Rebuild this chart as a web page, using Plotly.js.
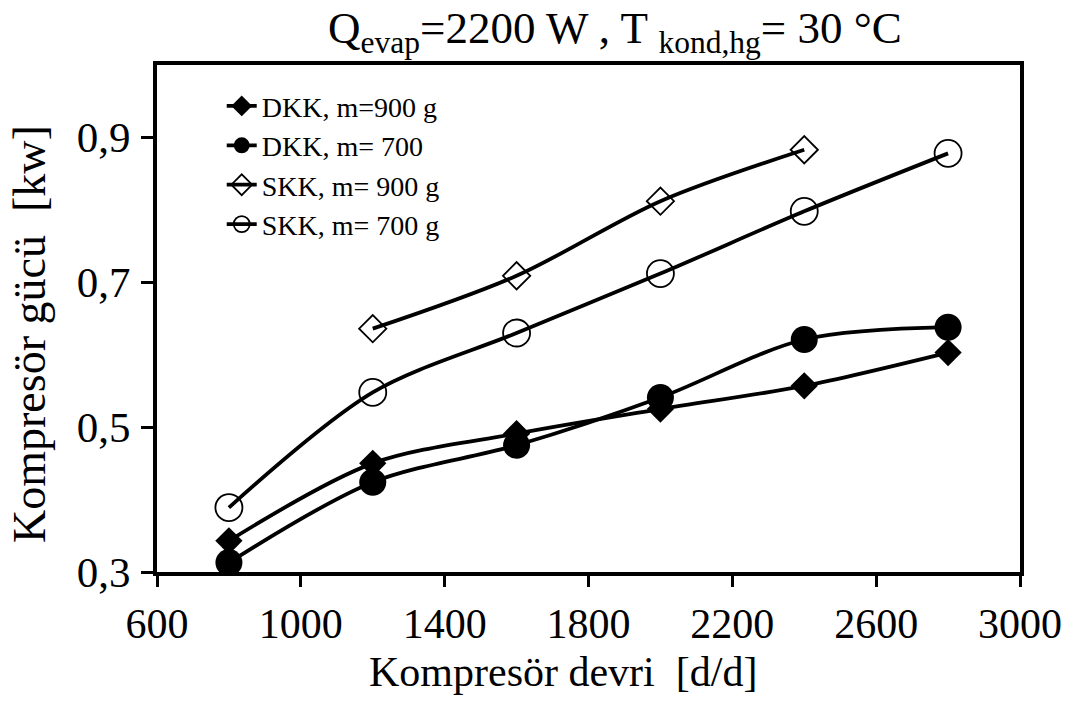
<!DOCTYPE html>
<html>
<head>
<meta charset="utf-8">
<script src="https://cdn.plot.ly/plotly-3.0.1.min.js"></script>
<style>html,body{margin:0;padding:0;background:#fff;}#chart{width:1075px;height:711px;}</style>
</head>
<body>
<div id="chart"></div>
<script>
const speed = [800, 1200, 1600, 2000, 2400, 2800];
const speedSkk900 = [1200, 1600, 2000, 2400];
const dkk900 = [0.343, 0.450, 0.491, 0.525, 0.557, 0.603];
const dkk700 = [0.313, 0.424, 0.475, 0.541, 0.621, 0.638];
const skk900 = [0.636, 0.709, 0.812, 0.883];
const skk700 = [0.389, 0.548, 0.630, 0.712, 0.798, 0.878];
const seriesNames = ['DKK, m=900 g', 'DKK, m= 700', 'SKK, m= 900 g', 'SKK, m= 700 g'];
const xTickVals = [600, 1000, 1400, 1800, 2200, 2600, 3000];
const xTickText = ['600', '1000', '1400', '1800', '2200', '2600', '3000'];
const yTickVals = [0.3, 0.5, 0.7, 0.9];
const yTickText = ['0,3', '0,5', '0,7', '0,9'];
const xTitle = 'Kompresör devri  [d/d]';
const yTitle = 'Kompresör gücü  [kw]';

const font = 'Liberation Serif, Times New Roman, serif';
const lineStyle = {color: '#000', width: 3.8, shape: 'spline', smoothing: 0.9};

const traces = [
  {x: speed, y: dkk900, name: seriesNames[0], mode: 'lines+markers', line: lineStyle,
   marker: {symbol: 'diamond', size: 21, color: '#000'}},
  {x: speed, y: dkk700, name: seriesNames[1], mode: 'lines+markers', line: lineStyle,
   marker: {symbol: 'circle', size: 27, color: '#000'}},
  {x: speedSkk900, y: skk900, name: seriesNames[2], mode: 'lines+markers', line: lineStyle,
   marker: {symbol: 'diamond-open', size: 21, color: '#000', line: {width: 1.8, color: '#000'}}},
  {x: speed, y: skk700, name: seriesNames[3], mode: 'lines+markers', line: lineStyle,
   marker: {symbol: 'circle-open', size: 27, color: '#000', line: {width: 1.8, color: '#000'}}}
];

const layout = {
  width: 1075, height: 711,
  margin: {l: 157, r: 55, t: 65, b: 139},
  paper_bgcolor: '#fff', plot_bgcolor: '#fff',
  font: {family: font, color: '#000', size: 42},
  title: {text: 'Q<sub>evap</sub>=2200 W , T <sub>kond,hg</sub>= 30 °C',
          font: {family: font, size: 45, color: '#000'}, x: 0.572, xanchor: 'center', y: 0.961, yanchor: 'middle'},
  xaxis: {range: [600, 3000], tickvals: xTickVals, ticktext: xTickText,
          showgrid: false, zeroline: false, showline: true, linecolor: '#000', linewidth: 4, mirror: true,
          ticks: 'outside', ticklen: 11, tickwidth: 3, tickcolor: '#000', ticklabelstandoff: 1,
          tickfont: {family: font, size: 42, color: '#000'}},
  yaxis: {range: [0.3, 1.0], tickvals: yTickVals, ticktext: yTickText,
          showgrid: false, zeroline: false, showline: true, linecolor: '#000', linewidth: 4, mirror: true,
          ticks: 'outside', ticklen: 12, tickwidth: 3, tickcolor: '#000', ticklabelstandoff: 2,
          tickfont: {family: font, size: 43, color: '#000'}},
  annotations: [
    {text: xTitle, xref: 'paper', yref: 'paper', x: 0.47, y: -0.197, xanchor: 'center', yanchor: 'middle',
     showarrow: false, font: {family: font, size: 42, color: '#000'}},
    {text: yTitle, xref: 'paper', yref: 'paper', x: -0.148, y: 0.47, xanchor: 'center', yanchor: 'middle',
     textangle: -90, showarrow: false, font: {family: font, size: 46, color: '#000'}}
  ],
  showlegend: true,
  legend: {x: 0.075, y: 0.968, xanchor: 'left', yanchor: 'top', bgcolor: 'rgba(0,0,0,0)',
           font: {family: font, size: 28, color: '#000'}, tracegroupgap: 0, itemwidth: 30}
};

Plotly.newPlot('chart', traces, layout, {displayModeBar: false, staticPlot: true});
</script>
</body>
</html>
